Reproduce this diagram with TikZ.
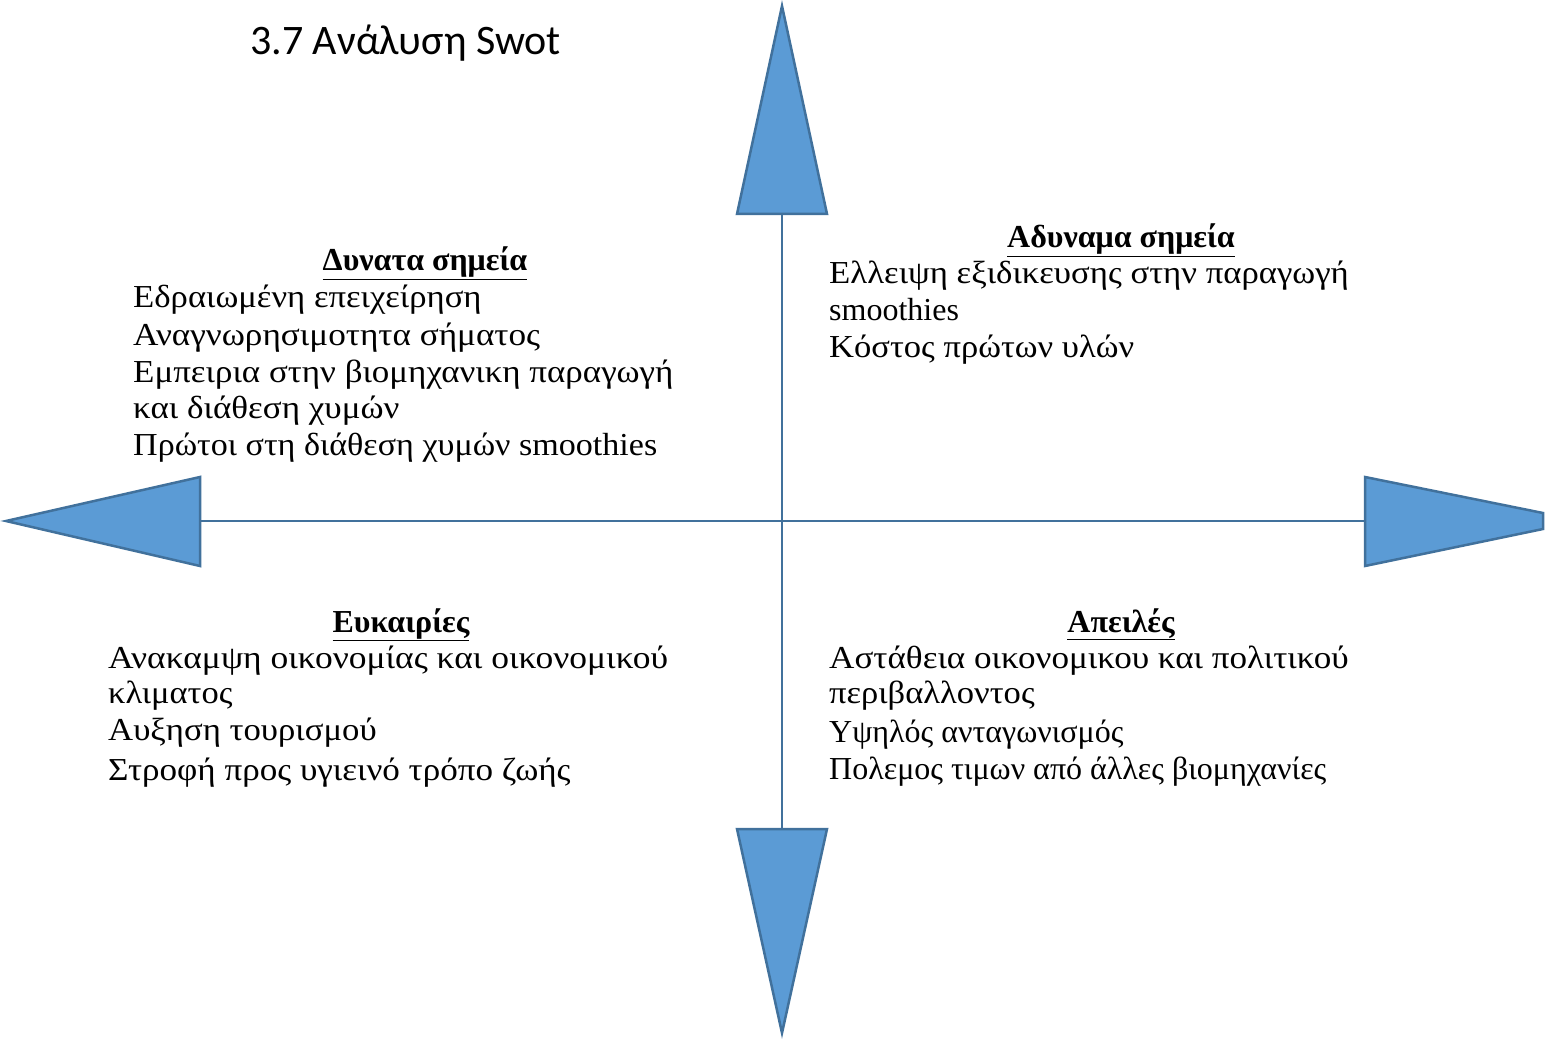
\documentclass[tikz,border=0pt]{standalone}
\usepackage{graphicx}
\usepackage{fontspec}
\setmainfont{Liberation Serif}
\newfontfamily\titlefont{Carlito}
\newcommand{\myxstretch}[2]{\scalebox{#1}[1]{#2}}
\begin{document}
\begin{tikzpicture}[x=1pt,y=-1pt,
  arrowhead/.style={fill=arrowfill,draw=arrowline,line width=2.5pt,line join=miter},
  axis/.style={draw=arrowline,line width=2.8pt},
  body/.style={anchor=base west,inner sep=0pt,font=\fontsize{32}{38}\selectfont},
  head/.style={anchor=base,inner sep=0pt,font=\fontsize{32}{38}\selectfont\bfseries},
  titlestyle/.style={anchor=base west,inner sep=0pt,font=\fontsize{42}{48}\titlefont}]
\definecolor{arrowfill}{HTML}{5B9BD5}
\definecolor{arrowline}{HTML}{41719C}
\useasboundingbox (0,0) rectangle (1554,1040);
% coordinates of arrow bases
\coordinate (topbase) at (782,214);
\coordinate (botbase) at (782,829);
\coordinate (leftbase) at (200,521);
\coordinate (rightbase) at (1365,521);
% axes
\draw[axis] (topbase) -- (botbase);
\draw[axis] (leftbase) -- (rightbase);
% arrowheads
\draw[arrowhead] (782,6) -- (827,214) -- (737,214) -- cycle;
\draw[arrowhead] (782,1033) -- (827,829) -- (737,829) -- cycle;
\draw[arrowhead] (6,521) -- (200,477) -- (200,566) -- cycle;
\draw[arrowhead] (1365,477) -- (1543,513) -- (1543,529) -- (1365,566) -- cycle;
% title
\node[titlestyle] (title) at (250,55) {3.7 Ανάλυση Swot};
% strengths
\node[head] (sh) at (425,271) {\underline{Δυνατα σημεία}};
\node[body] (s1) at (133,308) {\myxstretch{1.084}{Εδραιωμένη επειχείρηση}};
\node[body] (s2) at (133,345) {\myxstretch{1.10}{Αναγνωρησιμοτητα σήματος}};
\node[body] (s3) at (133,382) {\myxstretch{1.093}{Εμπειρια στην βιομηχανικη παραγωγή}};
\node[body] (s4) at (133,418) {\myxstretch{1.095}{και διάθεση χυμών}};
\node[body] (s5) at (133,455) {\myxstretch{1.065}{Πρώτοι στη διάθεση χυμών smoothies}};
% weaknesses
\node[head] (wh) at (1121,248) {\underline{Αδυναμα σημεία}};
\node[body] (w1) at (829,284) {\myxstretch{1.086}{Ελλειψη εξιδικευσης στην παραγωγή}};
\node[body] (w2) at (829,320) {smoothies};
\node[body] (w3) at (829,357) {\myxstretch{1.08}{Κόστος πρώτων υλών}};
% opportunities
\node[head] (oh) at (401,632) {\underline{Ευκαιρίες}};
\node[body] (o1) at (108,668) {\myxstretch{1.109}{Ανακαμψη οικονομίας και οικονομικού}};
\node[body] (o2) at (108,703) {\myxstretch{1.078}{κλιματος}};
\node[body] (o3) at (108,740) {\myxstretch{1.085}{Αυξηση τουρισμού}};
\node[body] (o4) at (108,780) {\myxstretch{1.097}{Στροφή προς υγιεινό τρόπο ζωής}};
% threats
\node[head] (th) at (1121,632) {\underline{Απειλές}};
\node[body] (t1) at (829,668) {\myxstretch{1.097}{Αστάθεια οικονομικου και πολιτικού}};
\node[body] (t2) at (829,703) {\myxstretch{1.08}{περιβαλλοντος}};
\node[body] (t3) at (829,742) {Υψηλός ανταγωνισμός};
\node[body] (t4) at (829,779) {Πολεμος τιμων από άλλες βιομηχανίες};
\end{tikzpicture}
\end{document}
